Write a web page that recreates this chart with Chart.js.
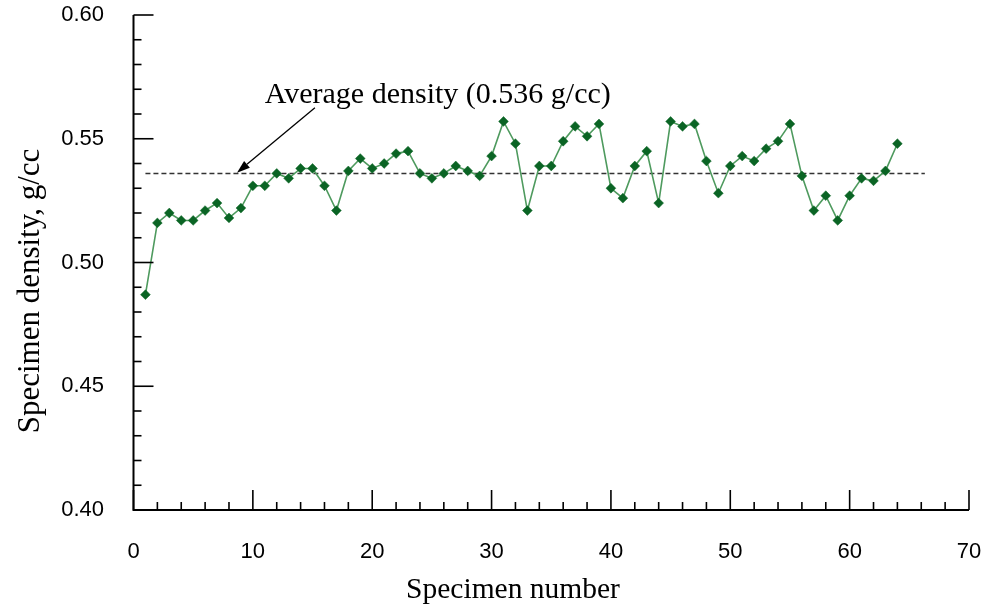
<!DOCTYPE html>
<html>
<head>
<meta charset="utf-8">
<script src="https://cdn.jsdelivr.net/npm/chart.js@4"></script>
<style>
  html, body { margin: 0; padding: 0; background: #ffffff; }
  #wrap { width: 989px; height: 613px; }
</style>
</head>
<body>
<div id="wrap"><canvas id="c" width="989" height="613"></canvas></div>
<script>
// ---- data ----
const specimenNumbers = [
  1, 2, 3, 4, 5, 6, 7, 8, 9, 10, 11, 12, 13, 14, 15, 16,
  17, 18, 19, 20, 21, 22, 23, 24, 25, 26, 27, 28, 29, 30, 31, 32,
  33, 34, 35, 36, 37, 38, 39, 40, 41, 42, 43, 44, 45, 46, 47, 48,
  49, 50, 51, 52, 53, 54, 55, 56, 57, 58, 59, 60, 61, 62, 63, 64
];
const densities = [
  0.487, 0.516, 0.520, 0.517, 0.517, 0.521, 0.524, 0.518, 0.522, 0.531, 0.531, 0.536, 0.534, 0.538, 0.538, 0.531,
  0.521, 0.537, 0.542, 0.538, 0.540, 0.544, 0.545, 0.536, 0.534, 0.536, 0.539, 0.537, 0.535, 0.543, 0.557, 0.548,
  0.521, 0.539, 0.539, 0.549, 0.555, 0.551, 0.556, 0.530, 0.526, 0.539, 0.545, 0.524, 0.557, 0.555, 0.556, 0.541,
  0.528, 0.539, 0.543, 0.541, 0.546, 0.549, 0.556, 0.535, 0.521, 0.527, 0.517, 0.527, 0.534, 0.533, 0.537, 0.548
];
const averageDensity = 0.536;
const averageLineX = [1, 66.3];
const xTicksMajor = [0, 10, 20, 30, 40, 50, 60, 70];
const yTicksMajor = [0.40, 0.45, 0.50, 0.55, 0.60];
const xTitle = 'Specimen number';
const yTitle = 'Specimen density, g/cc';
const annotationText = 'Average density (0.536 g/cc)';
// annotation anchor (data units)
const annotTextPos = [11.0, 0.5645];
const arrowFrom = [15.2, 0.5625];
const arrowTo = [8.67, 0.5363];

const seriesPoints = specimenNumbers.map((n, i) => ({ x: n, y: densities[i] }));
const avgPoints = averageLineX.map(x => ({ x: x, y: averageDensity }));

const axesPlugin = {
  id: 'customAxes',
  afterDatasetsDraw(chart) {
    const { ctx, scales: { x, y } } = chart;
    const left = x.getPixelForValue(0);
    const right = x.getPixelForValue(70);
    const top = y.getPixelForValue(0.60);
    const bottom = y.getPixelForValue(0.40);
    ctx.save();
    ctx.strokeStyle = '#000';
    ctx.lineWidth = 2;
    ctx.lineCap = 'butt';
    ctx.beginPath();
    ctx.moveTo(left, top);
    ctx.lineTo(left, bottom);
    ctx.lineTo(right, bottom);
    ctx.stroke();
    ctx.lineWidth = 1.6;
    // x ticks (inward)
    for (let v = 0; v <= 70 + 1e-9; v += 2) {
      const px = x.getPixelForValue(v);
      const major = Math.abs(v % 10) < 1e-9;
      const len = major ? 20 : 8;
      ctx.beginPath();
      ctx.moveTo(px, bottom);
      ctx.lineTo(px, bottom - len);
      ctx.stroke();
    }
    // y ticks (inward)
    for (let k = 0; k <= 20; k++) {
      const v = 0.40 + k * 0.01;
      const py = y.getPixelForValue(v);
      const major = k % 5 === 0;
      const len = major ? 20 : 8;
      ctx.beginPath();
      ctx.moveTo(left, py);
      ctx.lineTo(left + len, py);
      ctx.stroke();
    }
    // annotation text
    ctx.fillStyle = '#000';
    ctx.font = '30px "Liberation Serif", "Times New Roman", serif';
    ctx.textAlign = 'left';
    ctx.textBaseline = 'alphabetic';
    ctx.fillText(annotationText, x.getPixelForValue(annotTextPos[0]), y.getPixelForValue(annotTextPos[1]));
    // arrow
    const x1 = x.getPixelForValue(arrowFrom[0]), y1 = y.getPixelForValue(arrowFrom[1]);
    const x2 = x.getPixelForValue(arrowTo[0]), y2 = y.getPixelForValue(arrowTo[1]);
    const ang = Math.atan2(y2 - y1, x2 - x1);
    const hl = 13, hw = 4.5;
    const bx = x2 - hl * Math.cos(ang), by = y2 - hl * Math.sin(ang);
    ctx.lineWidth = 1.3;
    ctx.beginPath();
    ctx.moveTo(x1, y1);
    ctx.lineTo(bx, by);
    ctx.stroke();
    ctx.beginPath();
    ctx.moveTo(x2, y2);
    ctx.lineTo(bx + hw * Math.sin(ang), by - hw * Math.cos(ang));
    ctx.lineTo(bx - hw * Math.sin(ang), by + hw * Math.cos(ang));
    ctx.closePath();
    ctx.fill();
    // axis titles
    ctx.font = '29.5px "Liberation Serif", "Times New Roman", serif';
    ctx.textAlign = 'center';
    ctx.textBaseline = 'middle';
    ctx.fillText(xTitle, 513, 590);
    ctx.translate(31, 291);
    ctx.rotate(-Math.PI / 2);
    ctx.font = '31px "Liberation Serif", "Times New Roman", serif';
    ctx.fillText(yTitle, 0, 0);
    ctx.restore();
  }
};

new Chart(document.getElementById('c'), {
  type: 'scatter',
  data: {
    datasets: [
      {
        label: 'Specimen density',
        data: seriesPoints,
        showLine: true,
        borderColor: '#4e9a5e',
        borderWidth: 1.6,
        pointStyle: 'rectRot',
        pointRadius: 4.9,
        pointHoverRadius: 4.9,
        pointBackgroundColor: '#0a6424',
        pointBorderColor: '#0a6424',
        pointBorderWidth: 0.5,
        tension: 0,
        order: 1
      },
      {
        label: 'Average density',
        data: avgPoints,
        showLine: true,
        borderColor: '#333333',
        borderWidth: 1.5,
        borderDash: [5, 3],
        pointRadius: 0,
        order: 2
      }
    ]
  },
  options: {
    responsive: false,
    animation: false,
    devicePixelRatio: 1,
    layout: { padding: { top: 15, right: 20, bottom: 0, left: 0 } },
    plugins: { legend: { display: false }, tooltip: { enabled: false } },
    scales: {
      x: {
        type: 'linear',
        min: 0, max: 70,
        afterBuildTicks(scale) { scale.ticks = xTicksMajor.map(v => ({ value: v })); },
        ticks: {
          color: '#000',
          padding: 29,
          maxRotation: 0,
          font: { family: '"Liberation Sans", Arial, sans-serif', size: 22 },
          callback: v => String(v)
        },
        grid: { display: false, drawTicks: false },
        border: { display: false },
        afterFit(scale) {
          scale.height = 103;
          scale.paddingLeft = 0; scale.paddingRight = 0;
          scale.paddingTop = 0; scale.paddingBottom = 0;
        }
      },
      y: {
        type: 'linear',
        min: 0.40, max: 0.60,
        afterBuildTicks(scale) { scale.ticks = yTicksMajor.map(v => ({ value: v })); },
        ticks: {
          color: '#000',
          padding: 29.5,
          font: { family: '"Liberation Sans", Arial, sans-serif', size: 22 },
          callback: v => Number(v).toFixed(2)
        },
        grid: { display: false, drawTicks: false },
        border: { display: false },
        afterFit(scale) {
          scale.width = 133.5;
          scale.paddingLeft = 0; scale.paddingRight = 0;
          scale.paddingTop = 0; scale.paddingBottom = 0;
        }
      }
    }
  },
  plugins: [axesPlugin]
});
</script>
</body>
</html>
